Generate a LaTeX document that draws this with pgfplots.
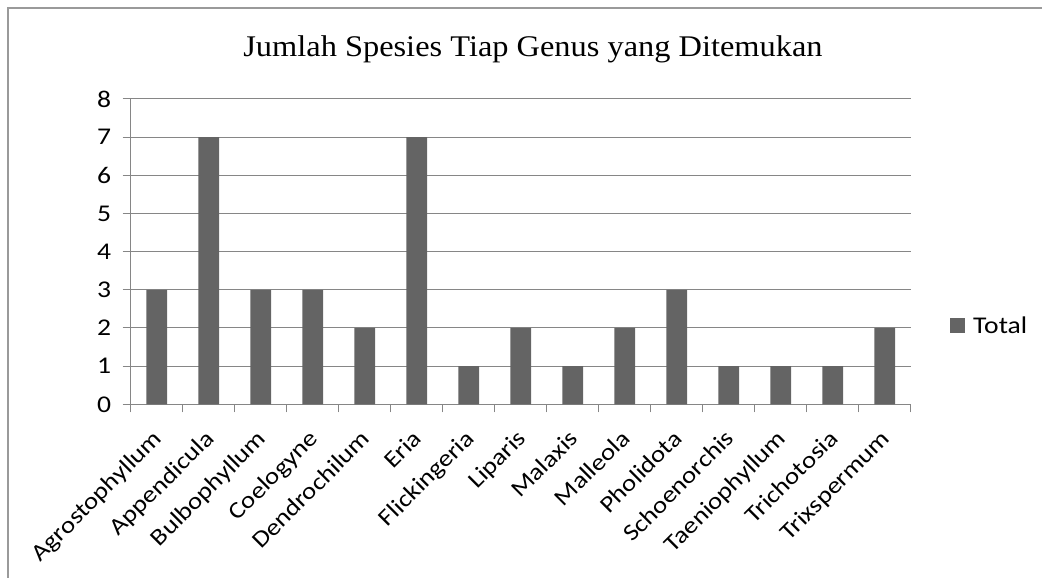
\documentclass[border=0pt]{standalone}
\usepackage{fontspec}
\usepackage{pgfplots}
\pgfplotsset{compat=1.18}
\setmainfont{Carlito}[FakeStretch=1.15]
\newfontfamily\titlefont{Liberation Serif}[FakeStretch=1.08]
\definecolor{barcol}{HTML}{646464}
\definecolor{gridcol}{HTML}{868686}
\definecolor{framecol}{HTML}{9A9A9A}
\begin{document}
\begin{tikzpicture}
\useasboundingbox (0,0) rectangle (1042pt,578pt);
\draw[framecol, line width=2pt] (8pt,-5pt) -- (8pt,570pt) -- (1050pt,570pt);
\node[anchor=base, font=\titlefont\fontsize{30}{33}\selectfont, text=black] at (533pt,521pt) {Jumlah Spesies Tiap Genus yang Ditemukan};
\begin{axis}[
  at={(130.7pt,173.7pt)}, anchor=south west,
  scale only axis, width=780pt, height=305.3pt,
  xmin=-0.5, xmax=14.5, ymin=0, ymax=8,
  ytick={0,...,8},
  xtick={-0.5,0.5,...,14.5}, xticklabels={},
  extra x ticks={0,...,14},
  extra x tick labels={Agrostophyllum,Appendicula,Bulbophyllum,Coelogyne,Dendrochilum,Eria,Flickingeria,Liparis,Malaxis,Malleola,Pholidota,Schoenorchis,Taeniophyllum,Trichotosia,Trixspermum},
  extra x tick style={major tick length=0pt, xticklabel style={xshift=-5pt, yshift=-21pt, rotate=45, anchor=north east, font=\fontsize{23.5}{26}\selectfont, inner sep=2pt}},
  tick align=outside, major tick length=8pt,
  tick style={gridcol, line width=1pt},
  axis x line*=bottom, axis y line*=left,
  axis line style={gridcol, line width=1pt},
  ymajorgrids, grid style={gridcol, line width=1pt},
  /pgf/number format/assume math mode=true,
  yticklabel style={font=\fontsize{24}{26}\selectfont, xshift=-8pt},
  legend style={draw=none, fill=none, at={(1.0504,0.2565)}, anchor=west, inner sep=0pt, font=\fontsize{24}{26}\selectfont},
  legend image code/.code={\fill[barcol] (0pt,-7.5pt) rectangle (15pt,7.5pt);},
  clip=false,
]
\addplot[ybar, bar width=20.7pt, fill=barcol, draw=none] coordinates {
(0,3) (1,7) (2,3) (3,3) (4,2) (5,7) (6,1) (7,2) (8,1) (9,2) (10,3) (11,1) (12,1) (13,1) (14,2)};
\addlegendentry{\hspace*{6pt}Total}
\end{axis}
\end{tikzpicture}
\end{document}
